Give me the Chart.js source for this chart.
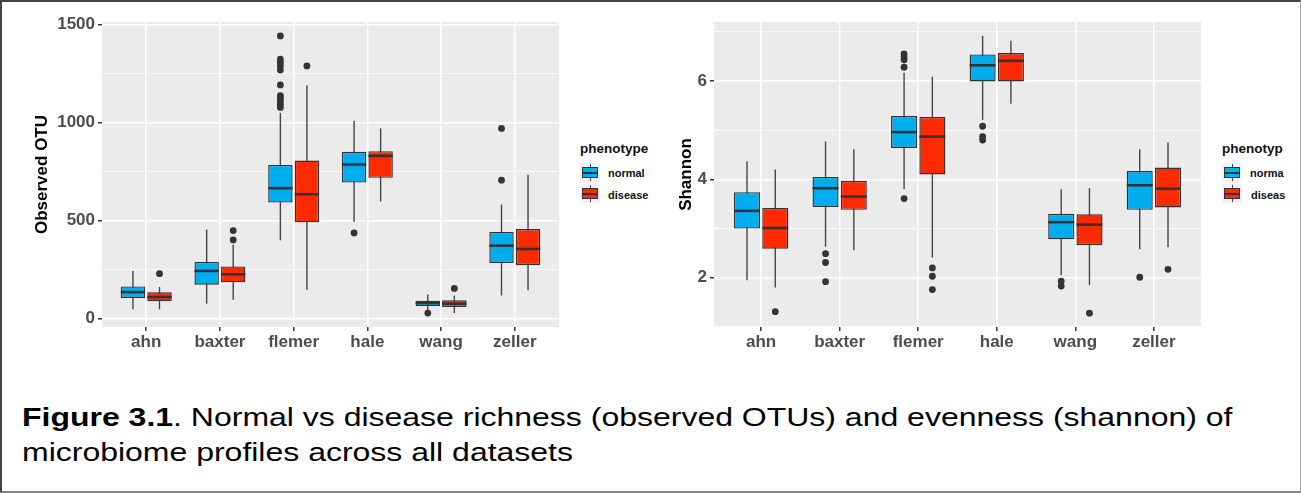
<!DOCTYPE html>
<html>
<head>
<meta charset="utf-8">
<script src="https://cdn.jsdelivr.net/npm/chart.js@4.4.1/dist/chart.umd.min.js"></script>
<style>
  body { margin: 0; background: #fff; }
  #page { position: relative; width: 1301px; height: 493px; overflow: hidden; font-family: "Liberation Sans", Arial, sans-serif; }
  #frame { position: absolute; left: 0; top: 0; width: 1301px; height: 493px; box-sizing: border-box;
           border-top: 2px solid #444; border-left: 2px solid #444; border-bottom: 2px solid #888; border-right: 1px solid #aaa; pointer-events: none; }
  canvas { position: absolute; top: 0; }
  .legend { position: absolute; font-weight: bold; color: #111; }
  .legend .title { font-size: 13.5px; position: absolute; left: 0; top: 0; white-space: nowrap; }
  .key { position: absolute; width: 20px; height: 19px; background: #F2F2F2; }
  .key .wh { position: absolute; left: 9.5px; top: 1px; width: 1px; height: 17px; background: #444; }
  .key .bx { position: absolute; left: 2px; top: 4px; width: 14px; height: 9px; border: 1.3px solid #333; }
  .key .md { position: absolute; left: 0; top: 3.5px; width: 14px; height: 2px; background: #333; }
  .lab { position: absolute; font-size: 11px; white-space: nowrap; }
  #caption { position: absolute; left: 22px; top: 400px; font-size: 26px; line-height: 35px; color: #000;
             transform-origin: 0 0; transform: scaleX(1.23); white-space: nowrap; }
</style>
</head>
<body>
<div id="page">
  <canvas id="otuChart" width="570" height="360" style="left:0px"></canvas>
  <canvas id="shannonChart" width="560" height="360" style="left:650px"></canvas>

  <div class="legend" style="left:580px; top:141px;">
    <div class="title">phenotype</div>
    <div class="key" style="left:0; top:22px;"><div class="wh"></div><div class="bx" style="background:#00AEEF"><div class="md"></div></div></div>
    <div class="lab" style="left:28px; top:26px;">normal</div>
    <div class="key" style="left:0; top:43px;"><div class="wh"></div><div class="bx" style="background:#FF2A00"><div class="md"></div></div></div>
    <div class="lab" style="left:28px; top:48px;">disease</div>
  </div>

  <div class="legend" style="left:1222px; top:141px;">
    <div class="title">phenotyp</div>
    <div class="key" style="left:0; top:22px;"><div class="wh"></div><div class="bx" style="background:#00AEEF"><div class="md"></div></div></div>
    <div class="lab" style="left:28px; top:26px;">norma</div>
    <div class="key" style="left:0; top:43px;"><div class="wh"></div><div class="bx" style="background:#FF2A00"><div class="md"></div></div></div>
    <div class="lab" style="left:29px; top:48px;">diseas</div>
  </div>

  <div id="caption"><b>Figure 3.1</b>. Normal vs disease richness (observed OTUs) and evenness (shannon) of<br>microbiome profiles across all datasets</div>
  <div id="frame"></div>
</div>

<script>
// datasets on the x axis
var categories = ["ahn", "baxter", "flemer", "hale", "wang", "zeller"];

// box stats per dataset: [lower whisker, q1, median, q3, upper whisker]
var otuNormal = [
  [48, 106, 136, 165, 244],
  [77, 174, 244, 290, 455],
  [400, 593, 666, 785, 1051],
  [494, 695, 787, 852, 1010],
  [43, 65, 80, 92, 124],
  [119, 284, 373, 443, 583]
];
var otuDisease = [
  [48, 89, 111, 135, 162],
  [97, 186, 227, 267, 378],
  [148, 492, 635, 807, 1191],
  [598, 719, 831, 855, 971],
  [29, 60, 77, 94, 118],
  [145, 273, 356, 458, 734]
];
var otuNormalOutliers = [[], [], [1443, 1325, 1308, 1291, 1269, 1193, 1138, 1124, 1111, 1094, 1078], [438], [29], [971, 707]];
var otuDiseaseOutliers = [[230], [450, 402], [1290], [], [155], []];
var otuTicks = [0, 250, 500, 750, 1000, 1250, 1500];

var shannonNormal = [
  [1.95, 3.00, 3.36, 3.74, 4.37],
  [2.63, 3.44, 3.82, 4.05, 4.77],
  [3.80, 4.64, 4.96, 5.29, 6.17],
  [5.21, 5.99, 6.32, 6.54, 6.92],
  [2.05, 2.78, 3.13, 3.30, 3.80],
  [2.58, 3.38, 3.88, 4.17, 4.61]
];
var shannonDisease = [
  [1.80, 2.59, 3.01, 3.42, 4.20],
  [2.56, 3.38, 3.65, 3.97, 4.61],
  [2.41, 4.10, 4.87, 5.27, 6.09],
  [5.54, 5.99, 6.41, 6.57, 6.82],
  [1.85, 2.66, 3.08, 3.29, 3.82],
  [2.62, 3.43, 3.81, 4.24, 4.75]
];
var shannonNormalOutliers = [[], [2.49, 2.31, 1.92], [6.55, 6.49, 6.43, 6.28, 3.61], [5.08, 4.87, 4.80], [1.93, 1.83], [2.01]];
var shannonDiseaseOutliers = [[1.31], [], [2.20, 2.03, 1.76], [], [1.28], [2.17]];
var shannonTicks = [1, 2, 3, 4, 5, 6, 7];

var BLUE = "#00AEEF";
var RED = "#FF2A00";
var EDGE = "#333333";
var CAT_PCT = 0.72;
var BAR_PCT = 0.92;
var DODGE = CAT_PCT / 4;

Chart.defaults.font.family = "'Liberation Sans', Arial, sans-serif";
Chart.defaults.animation = false;

// grey panel + whiskers + medians, all placed from the scales / bar elements
var boxPlugin = {
  id: "boxPlot",
  beforeDraw: function (chart) {
    var a = chart.chartArea, ctx = chart.ctx;
    ctx.save();
    ctx.fillStyle = "#EBEBEB";
    ctx.fillRect(a.left, a.top, a.right - a.left, a.bottom - a.top);
    ctx.restore();
  },
  beforeDatasetsDraw: function (chart) {
    var ctx = chart.ctx, y = chart.scales.y;
    chart.data.datasets.forEach(function (ds, di) {
      if (!ds.stats) return;
      chart.getDatasetMeta(di).data.forEach(function (bar, i) {
        var s = ds.stats[i];
        ctx.save();
        ctx.strokeStyle = "#454545";
        ctx.lineWidth = 1.4;
        ctx.beginPath();
        ctx.moveTo(bar.x, y.getPixelForValue(s[0]));
        ctx.lineTo(bar.x, y.getPixelForValue(s[4]));
        ctx.stroke();
        ctx.restore();
      });
    });
  },
  afterDatasetsDraw: function (chart) {
    var ctx = chart.ctx, y = chart.scales.y;
    chart.data.datasets.forEach(function (ds, di) {
      if (!ds.stats) return;
      chart.getDatasetMeta(di).data.forEach(function (bar, i) {
        var py = y.getPixelForValue(ds.stats[i][2]);
        ctx.save();
        ctx.strokeStyle = EDGE;
        ctx.lineWidth = 2.6;
        ctx.beginPath();
        ctx.moveTo(bar.x - bar.width / 2, py);
        ctx.lineTo(bar.x + bar.width / 2, py);
        ctx.stroke();
        ctx.restore();
      });
    });
  }
};

function boxData(stats) {
  return stats.map(function (s, i) { return { x: i, y: [s[1], s[3]] }; });
}

function outlierData(outs, shift) {
  var pts = [];
  outs.forEach(function (list, i) {
    list.forEach(function (v) { pts.push({ x: i + shift, y: v }); });
  });
  return pts;
}

function makeChart(id, opts) {
  return new Chart(document.getElementById(id), {
    type: "bar",
    data: {
      datasets: [
        { label: "normal", data: boxData(opts.normal), stats: opts.normal, backgroundColor: BLUE,
          borderColor: EDGE, borderWidth: 1.4, borderSkipped: false,
          categoryPercentage: CAT_PCT, barPercentage: BAR_PCT, order: 2 },
        { label: "disease", data: boxData(opts.disease), stats: opts.disease, backgroundColor: RED,
          borderColor: EDGE, borderWidth: 1.4, borderSkipped: false,
          categoryPercentage: CAT_PCT, barPercentage: BAR_PCT, order: 2 },
        { type: "scatter", label: "normal outliers", data: outlierData(opts.normalOut, -DODGE),
          pointRadius: 3.4, pointBackgroundColor: "#333", pointBorderWidth: 0, order: 1 },
        { type: "scatter", label: "disease outliers", data: outlierData(opts.diseaseOut, DODGE),
          pointRadius: 3.4, pointBackgroundColor: "#333", pointBorderWidth: 0, order: 1 }
      ]
    },
    options: {
      responsive: false,
      layout: { padding: opts.padding },
      plugins: { legend: { display: false }, tooltip: { enabled: false } },
      scales: {
        x: {
          type: "linear", min: -0.6, max: 5.6, offset: false, bounds: "data",
          afterBuildTicks: function (s) { s.ticks = categories.map(function (c, i) { return { value: i }; }); },
          afterFit: function (s) { s.height = 33; },
          border: { display: false },
          grid: { color: "#FFFFFF", lineWidth: 1.5, offset: false, tickLength: 4, tickColor: "#333" },
          ticks: {
            autoSkip: false, maxRotation: 0, padding: 1,
            color: "#4D4D4D", font: { size: 17, weight: "bold" },
            callback: function (v) { return categories[v] !== undefined ? categories[v] : ""; }
          }
        },
        y: {
          min: opts.yMin, max: opts.yMax, bounds: "data",
          afterBuildTicks: function (s) { s.ticks = opts.ticks.map(function (v) { return { value: v }; }); },
          afterFit: function (s) { s.width = opts.yWidth; },
          border: { display: false },
          title: { display: true, text: opts.title, color: "#000", font: { size: 17, weight: "bold" }, padding: { top: 4, bottom: 4 } },
          grid: {
            color: "#FFFFFF", tickLength: 4,
            lineWidth: function (c) { return c.tick && c.tick.value % opts.major === 0 ? 1.5 : 0.7; },
            tickColor: function (c) { return c.tick && c.tick.value % opts.major === 0 ? "#333" : "rgba(0,0,0,0)"; }
          },
          ticks: {
            padding: 3,
            color: "#4D4D4D", font: { size: 17, weight: "bold" },
            callback: function (v) { return v % opts.major === 0 ? v : ""; }
          }
        }
      }
    },
    plugins: [boxPlugin]
  });
}

makeChart("otuChart", {
  normal: otuNormal, disease: otuDisease,
  normalOut: otuNormalOutliers, diseaseOut: otuDiseaseOutliers,
  title: "Observed OTU", yMin: -42, yMax: 1514, major: 500, ticks: otuTicks, yWidth: 74,
  padding: { left: 28, top: 22, right: 11, bottom: 0 }
});

makeChart("shannonChart", {
  normal: shannonNormal, disease: shannonDisease,
  normalOut: shannonNormalOutliers, diseaseOut: shannonDiseaseOutliers,
  title: "Shannon", yMin: 0.998, yMax: 7.2, major: 2, ticks: shannonTicks, yWidth: 42,
  padding: { left: 22, top: 22, right: 9, bottom: 0 }
});
</script>
</body>
</html>
